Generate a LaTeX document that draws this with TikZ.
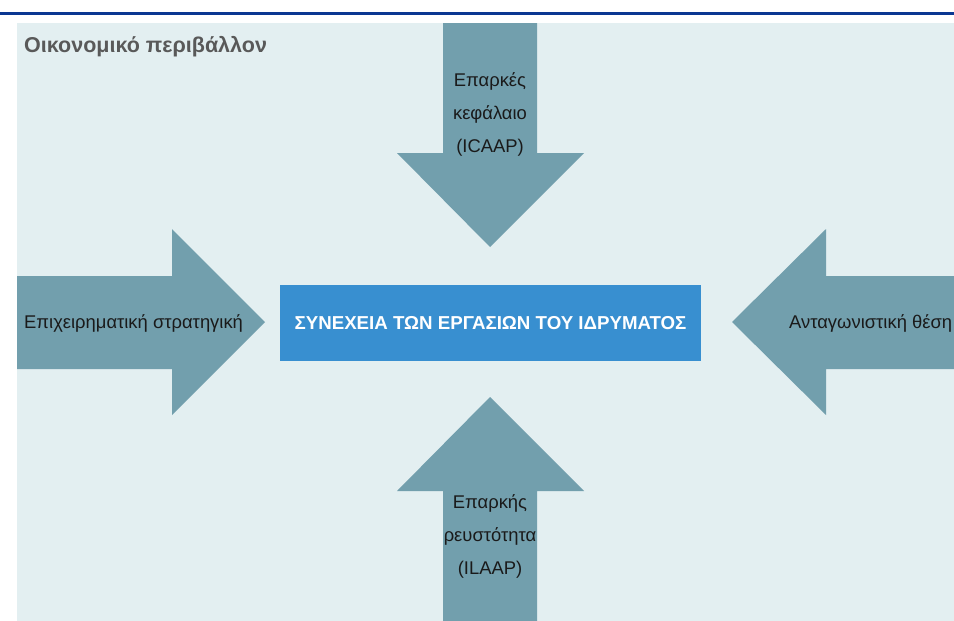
\documentclass[tikz,border=0pt]{standalone}
\usepackage{fontspec}
\setmainfont{Liberation Sans}
\definecolor{panelbg}{HTML}{E3EFF1}
\definecolor{arrowc}{HTML}{729FAD}
\definecolor{boxc}{HTML}{388FD0}
\definecolor{navy}{HTML}{0A3792}
\definecolor{titlec}{HTML}{595959}
\definecolor{txtc}{HTML}{1A1A1A}
\begin{document}
\begin{tikzpicture}[x=1pt,y=-1pt,
  bigarrow/.style={fill=arrowc,draw=none},
  arrowtext/.style={text=txtc,font=\fontsize{18.4}{33}\selectfont,align=center,inner sep=0pt},
  centerbox/.style={fill=boxc,draw=none,text=white,font=\fontsize{18.7}{22}\selectfont\bfseries,minimum width=421pt,minimum height=76pt,inner sep=0pt}]
\useasboundingbox (0,0) rectangle (954,621);
\fill[white] (0,0) rectangle (954,621);
\draw[navy,line width=2.6pt] (0,13.7) -- (954,13.7);
\fill[panelbg] (17,23) rectangle (954,621);
\node[anchor=base west,text=titlec,font=\fontsize{21.5}{24}\selectfont\bfseries,inner sep=0pt] (title) at (24,52) {Οικονομικό περιβάλλον};
% top arrow
\fill[bigarrow] (443,23) -- (537,23) -- (537,153) -- (584,153) -- (490,247) -- (397,153) -- (443,153) -- cycle;
% bottom arrow
\fill[bigarrow] (443,621) -- (537,621) -- (537,491) -- (584,491) -- (490,397) -- (397,491) -- (443,491) -- cycle;
% left arrow
\fill[bigarrow] (17,276) -- (172,276) -- (172,229) -- (265,322) -- (172,415) -- (172,369) -- (17,369) -- cycle;
% right arrow
\fill[bigarrow] (954,276) -- (826,276) -- (826,229) -- (732,322) -- (826,415) -- (826,369) -- (954,369) -- cycle;
\node[centerbox] (center) at (490.5,323) {ΣΥΝΕΧΕΙΑ ΤΩΝ ΕΡΓΑΣΙΩΝ ΤΟΥ ΙΔΡΥΜΑΤΟΣ};
\node[arrowtext,anchor=base] (top1) at (490,86) {Επαρκές};
\node[arrowtext,anchor=base] (top2) at (490,119) {κεφάλαιο};
\node[arrowtext,anchor=base] (top3) at (490,152) {(ICAAP)};
\node[arrowtext,anchor=base] (bot1) at (490,508) {Επαρκής};
\node[arrowtext,anchor=base] (bot2) at (490,541) {ρευστότητα};
\node[arrowtext,anchor=base] (bot3) at (490,574) {(ILAAP)};
\node[arrowtext,anchor=base west] (left) at (24,328) {Επιχειρηματική στρατηγική};
\node[arrowtext,anchor=base west] (right) at (789,328) {Ανταγωνιστική θέση};
\end{tikzpicture}
\end{document}
